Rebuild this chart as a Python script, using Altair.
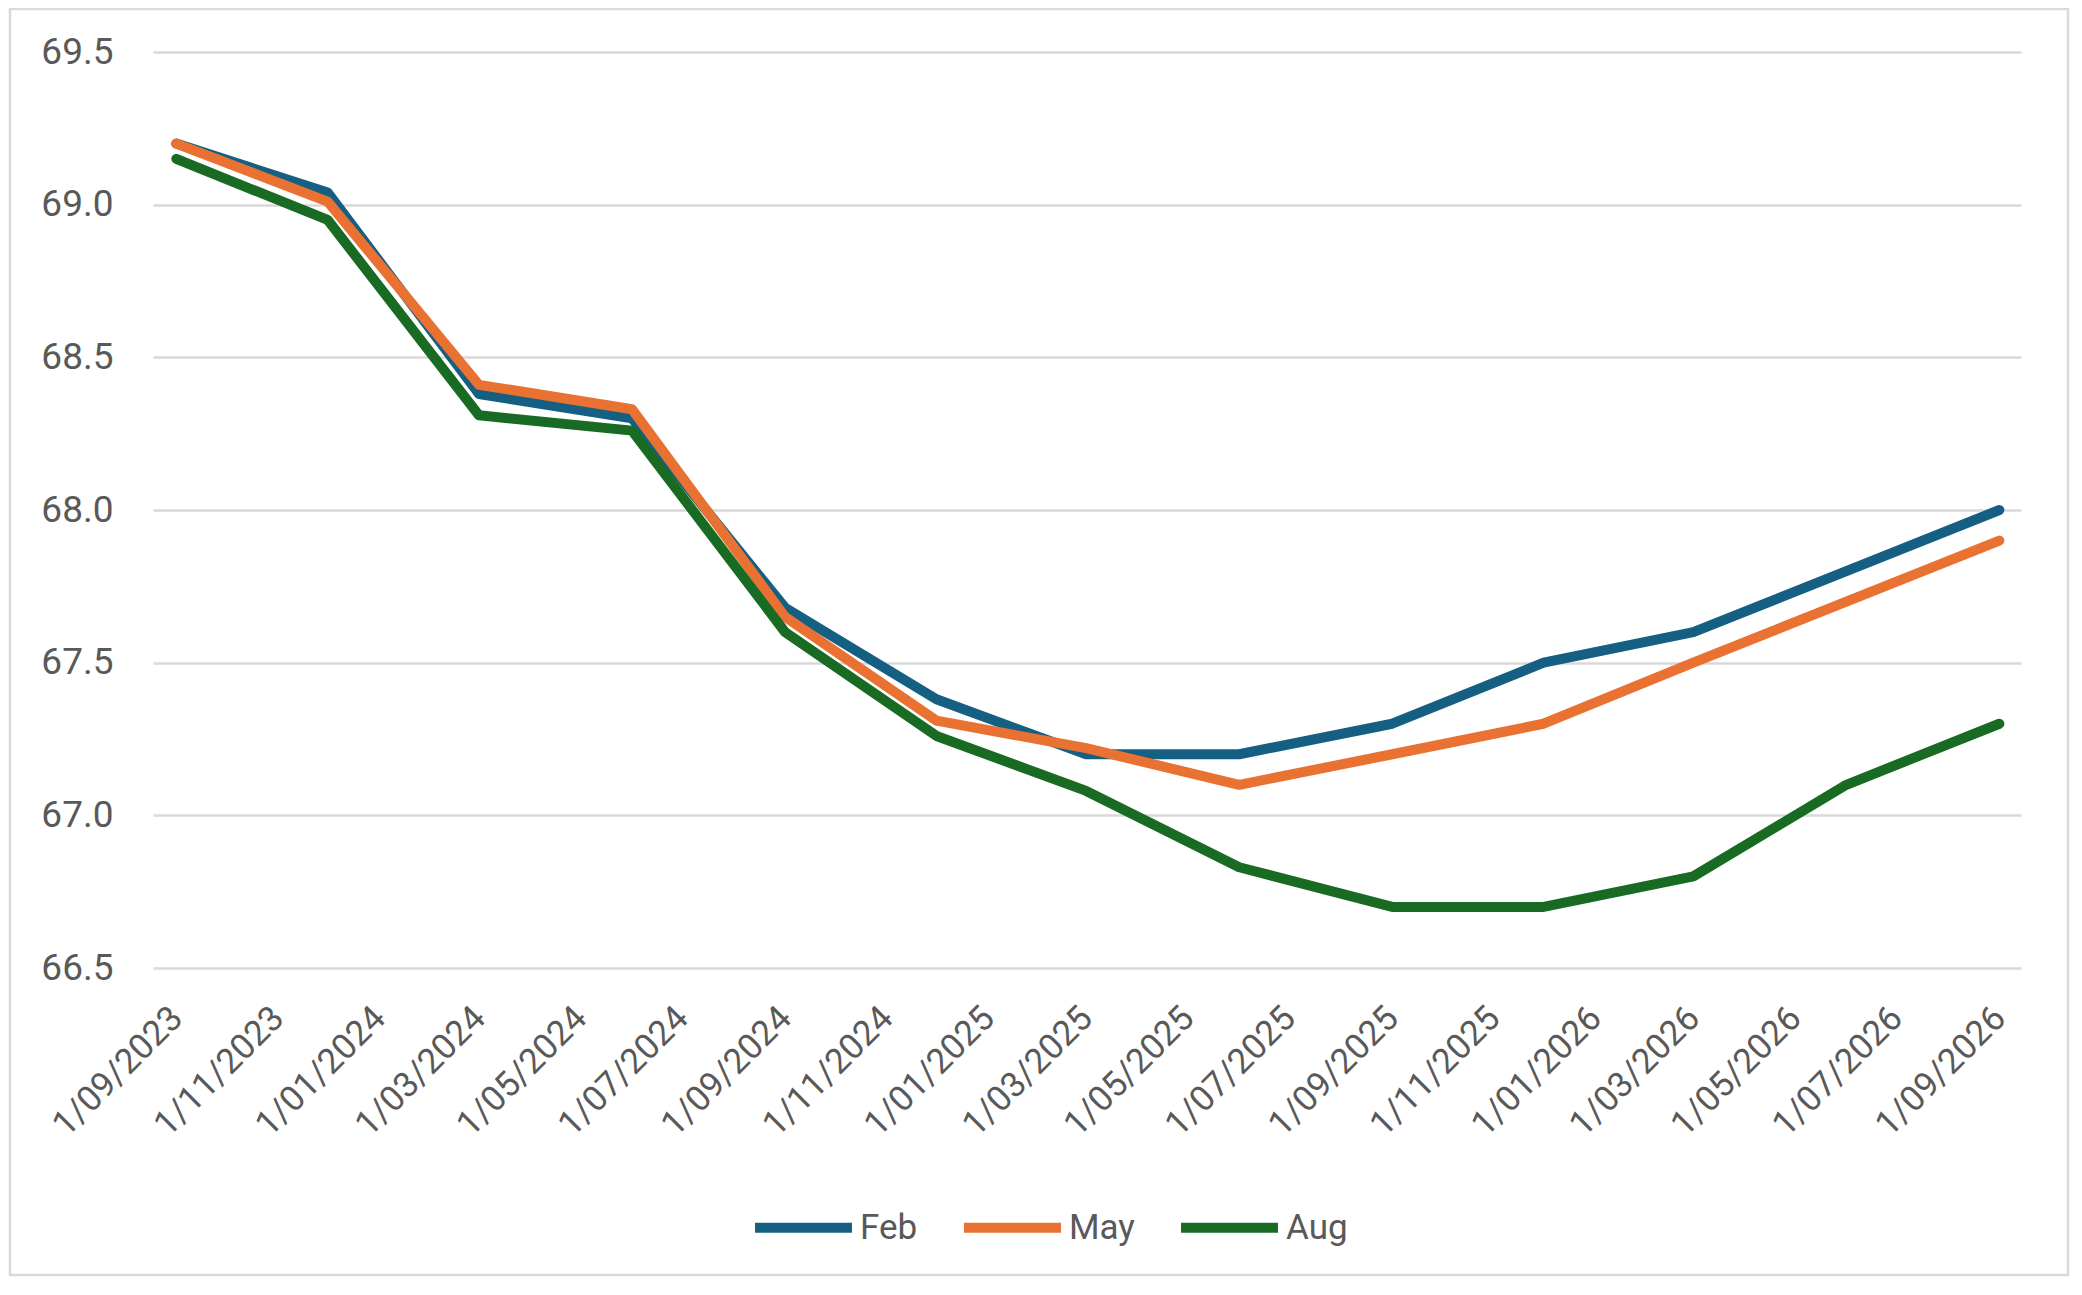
import altair as alt
import pandas as pd

dates = ["2023-09-01", "2023-12-01", "2024-03-01", "2024-06-01", "2024-09-01",
         "2024-12-01", "2025-03-01", "2025-06-01", "2025-09-01", "2025-12-01",
         "2026-03-01", "2026-06-01", "2026-09-01"]
feb = [69.20, 69.04, 68.38, 68.30, 67.68, 67.38, 67.20, 67.20, 67.30, 67.50, 67.60, 67.80, 68.00]
may = [69.20, 69.01, 68.41, 68.33, 67.65, 67.31, 67.22, 67.10, 67.20, 67.30, 67.50, 67.70, 67.90]
aug = [69.15, 68.95, 68.31, 68.26, 67.60, 67.26, 67.08, 66.83, 66.70, 66.70, 66.80, 67.10, 67.30]
series = ["Feb", "May", "Aug"]
colors = ["#156082", "#E97132", "#196B24"]
tick_months = [(2023, 9), (2023, 11), (2024, 1), (2024, 3), (2024, 5), (2024, 7), (2024, 9),
               (2024, 11), (2025, 1), (2025, 3), (2025, 5), (2025, 7), (2025, 9), (2025, 11),
               (2026, 1), (2026, 3), (2026, 5), (2026, 7), (2026, 9)]
y_ticks = [66.5, 67.0, 67.5, 68.0, 68.5, 69.0, 69.5]

rows = []
for name, vals in zip(series, [feb, may, aug]):
    for d, v in zip(dates, vals):
        rows.append({"date": d, "value": v, "series": name, "order": series.index(name)})
df = pd.DataFrame(rows)

W, H = 1868, 916
FONT = "Roboto"
LBL = "#595959"

lines = alt.Chart(df).mark_line(strokeWidth=10, strokeCap="round", strokeJoin="round").encode(
    x=alt.X("date:T",
            scale=alt.Scale(type="utc",
                            domain=[alt.DateTime(year=2023, month=8, date=18, utc=True),
                                    alt.DateTime(year=2026, month=9, date=14, utc=True)]),
            axis=alt.Axis(values=[alt.DateTime(year=y, month=m, date=1, utc=True) for y, m in tick_months],
                          format="%-d/%m/%Y", labelAngle=-45, labelAlign="right",
                          labelBaseline="middle", labelPadding=44, labelFontSize=35,
                          labelColor=LBL, labelFont=FONT, grid=False, ticks=False,
                          domain=False, title=None, labelOverlap=False, labelFlush=False),
            title=None),
    y=alt.Y("value:Q",
            scale=alt.Scale(domain=[66.5, 69.5], nice=False, zero=False),
            axis=alt.Axis(values=y_ticks, format=".1f", labelFontSize=37, labelColor=LBL,
                          labelFont=FONT, labelPadding=40, ticks=False, domain=False,
                          gridColor="#D9D9D9", gridWidth=2.5, title=None)),
    color=alt.Color("series:N",
                    scale=alt.Scale(domain=series, range=colors),
                    sort=series,
                    legend=alt.Legend(orient="none", legendX=597, legendY=1122,
                                      direction="horizontal", title=None,
                                      symbolType="stroke", symbolStrokeWidth=10,
                                      symbolSize=9400, labelFontSize=35, labelFont=FONT,
                                      labelColor=LBL, labelOffset=3, columnPadding=26)),
    detail="series:N",
    order="order:Q",
)

frame = alt.Chart(pd.DataFrame({"a": [0]})).mark_rect(
    fill="transparent", stroke="#D9D9D9", strokeWidth=2.5
).encode(
    x=alt.value(-143), x2=alt.value(W + 47),
    y=alt.value(-43), y2=alt.value(H + 307),
)

chart = alt.layer(frame, lines).properties(
    width=W, height=H,
    autosize=alt.AutoSizeParams(type="none"),
    padding={"left": 145, "top": 44, "right": 50, "bottom": 310},
    view=alt.ViewBackground(strokeWidth=0, strokeOpacity=0),
).configure_view(strokeWidth=0, strokeOpacity=0).configure(background="white")

chart.save("out.html", embed_options={"renderer": "svg", "actions": False})
